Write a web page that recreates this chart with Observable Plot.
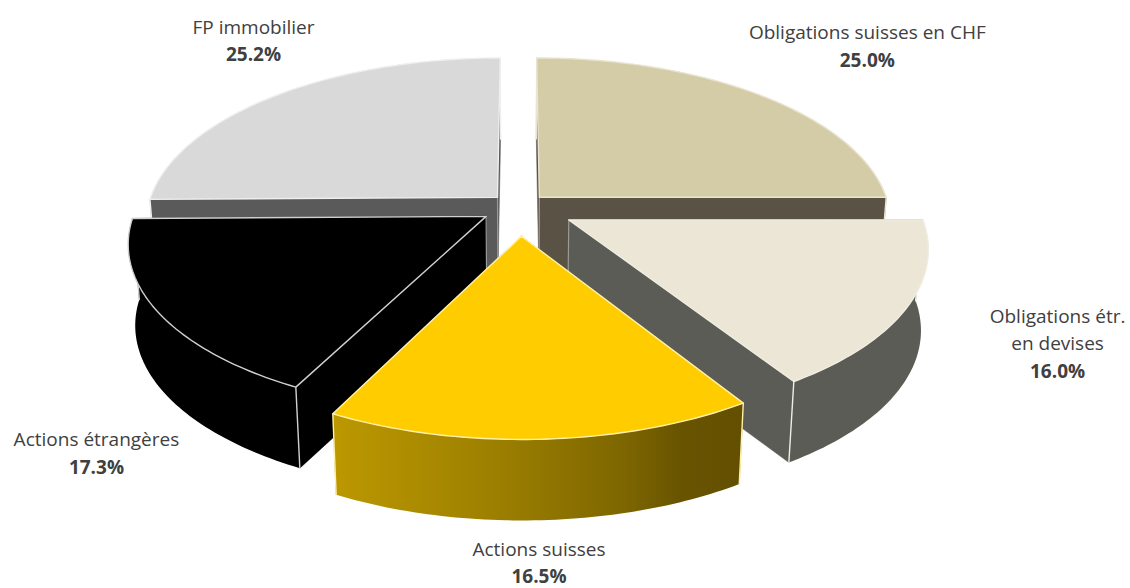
<!DOCTYPE html>
<html><head><meta charset="utf-8">
<script src="https://cdn.jsdelivr.net/npm/d3@7"></script>
<script src="https://cdn.jsdelivr.net/npm/@observablehq/plot@0.6"></script>
<style>html,body{margin:0;padding:0;background:#fff}svg{display:block}</style>
</head><body><div id="chart"></div>
<script>
const categories = ["Obligations suisses en CHF","Obligations étr.\nen devises","Actions suisses","Actions étrangères","FP immobilier"];
const shares = [25.0,16.0,16.5,17.3,25.2];
const tickLabels = ["25.0%","16.0%","16.5%","17.3%","25.2%"];

// drawing style and layout
const topColors = ["#d4cca7","#ebe6d6","#ffcc00","#000000","#d9d9d9"];
const wallColors = ["#5a5244","#5c5c56","url(#goldWall)","#000000","#5a5a5a"];
const edgeColors = ["#e9e5d2","#f0ede2","#fff1a8","#cfcfcf","#efefef"];
const explode = [0.085,0.162,0.175,0.108,0.085];
const nudge = [[108,-48.5],[150,36],[-3,123.5],[-61,141.5],[-22.5,-55]];
const paintOrder = [0,4,1,3,2];
const W = 1130, H = 588;
const X0 = 518, Y0 = 206.5, R = 350, RY = 163, K = 0.15, DEPTH = 81, SHRINK = 0.018;

function project(u, v, low) {
  const s = 1 / (1 + K * v) * (low ? 1 - SHRINK : 1);
  return {x: X0 + R * u * s, y: Y0 - RY * v * (1 / (1 + K * v)) + (low ? DEPTH : 0)};
}
const total = d3.sum(shares);
let acc = 0;
const wedges = shares.map((d, i) => {
  const a0 = acc / total * 2 * Math.PI; acc += d;
  const a1 = acc / total * 2 * Math.PI;
  const mid = (a0 + a1) / 2;
  const ox = Math.sin(mid) * explode[i], oy = Math.cos(mid) * explode[i];
  const at = (a, r, low) => project(ox + r * Math.sin(a), oy + r * Math.cos(a), low);
  const arc = (low) => d3.range(0, 61).map(j => at(a0 + (a1 - a0) * j / 60, 1, low));
  return {i, a0, a1, mid, at, arc};
});
const close = (pts) => [...pts, pts[0]];
const shape = (pts, o) => Plot.line(close(pts), {x: "x", y: "y", curve: "linear", ...o});
const edge = (pts, c, w = 1.4) => Plot.line(pts, {x: "x", y: "y", curve: "linear", stroke: c, strokeWidth: w});

const wedgeMarks = paintOrder.flatMap((i) => {
  const w = wedges[i], apexT = w.at(0, 0, false), apexB = w.at(0, 0, true);
  const top = w.arc(false), low = w.arc(true);
  const first = top[0], last = top[top.length - 1];
  const firstB = low[0], lastB = low[low.length - 1];
  const wall = wallColors[i], flat = wall.startsWith("url") ? "#5f4c00" : wall;
  return [
    shape([apexT, first, firstB, apexB], {fill: flat, stroke: flat, strokeWidth: 0.5}),
    shape([apexT, last, lastB, apexB], {fill: flat, stroke: flat, strokeWidth: 0.5}),
    shape([...top, ...low.slice().reverse()], {fill: wall, stroke: "none"}),
    edge([first, firstB], edgeColors[i]),
    edge([last, lastB], edgeColors[i]),
    edge([apexT, apexB], i === 2 ? "none" : "#9a9a96", 1.2),
    shape([apexT, ...top], {fill: topColors[i], stroke: edgeColors[i], strokeWidth: 1.4})
  ];
});

const labelLines = [], labelPcts = [];
categories.forEach((name, i) => {
  const w = wedges[i], p = w.at(w.mid, 1, false);
  const lines = name.split("\n");
  const cx = p.x + nudge[i][0], cy = p.y + nudge[i][1];
  const start = cy - lines.length * 13;
  lines.forEach((t, j) => labelLines.push({x: cx, y: start + j * 27, t}));
  labelPcts.push({x: cx, y: start + lines.length * 27.5, t: tickLabels[i]});
});

const defs = () => {
  const d = d3.create("svg:defs");
  const g = d.append("linearGradient").attr("id", "goldWall").attr("x1", 0).attr("x2", 1).attr("y1", 0).attr("y2", 0);
  [[0, "#bc9800"], [0.4, "#9c7f00"], [0.7, "#7f6700"], [0.85, "#685400"], [1, "#634f00"]].forEach(([o, c]) =>
    g.append("stop").attr("offset", o).attr("stop-color", c));
  return d.node();
};

const fig = Plot.plot({
  width: W, height: H, margin: 0,
  x: {domain: [0, W], range: [0, W], axis: null},
  y: {domain: [0, H], range: [0, H], axis: null},
  style: {background: "#fff"},
  marks: [
    defs,
    ...wedgeMarks,
    Plot.text(labelLines, {x: "x", y: "y", text: "t", fill: "#404040", fontSize: 19, fontFamily: "'Open Sans', sans-serif", textAnchor: "middle", lineAnchor: "middle"}),
    Plot.text(labelPcts, {x: "x", y: "y", text: "t", fill: "#404040", fontSize: 19, fontWeight: 700, fontFamily: "'Open Sans', sans-serif", textAnchor: "middle", lineAnchor: "middle"})
  ]
});
document.getElementById("chart").append(fig);
</script></body></html>
